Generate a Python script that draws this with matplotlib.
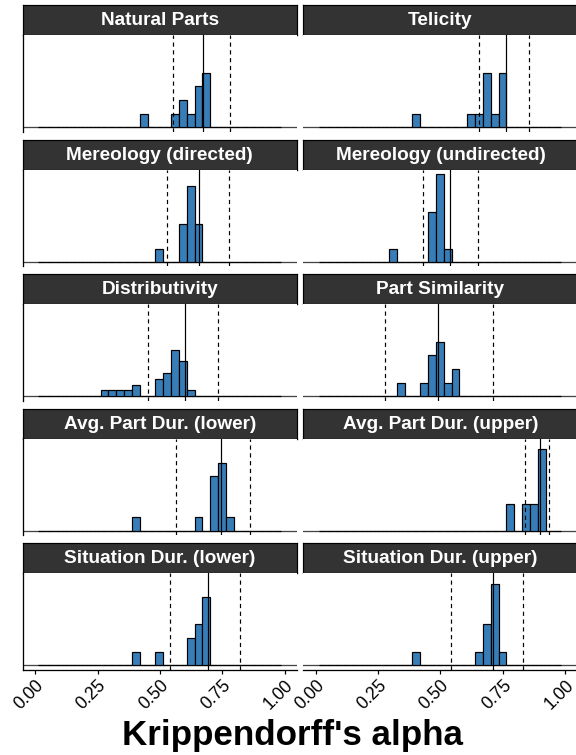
import matplotlib.pyplot as plt
import numpy as np

plt.rcParams['font.family'] = ['Liberation Sans', 'DejaVu Sans']

# facet titles, in reading order (left to right, top to bottom)
titles = ['Natural Parts', 'Telicity',
          'Mereology (directed)', 'Mereology (undirected)',
          'Distributivity', 'Part Similarity',
          'Avg. Part Dur. (lower)', 'Avg. Part Dur. (upper)',
          'Situation Dur. (lower)', 'Situation Dur. (upper)']

# shared histogram bins
bin_start = 0.011
bin_width = 0.0314
n_bins = 31

# occupied bin index -> count, per facet
bins_natural = [13, 17, 18, 19, 20, 21]
counts_natural = [1, 1, 2, 1, 3, 4]
bins_telicity = [12, 19, 20, 21, 22, 23]
counts_telicity = [1, 1, 1, 4, 1, 4]
bins_mer_dir = [15, 18, 19, 20]
counts_mer_dir = [1, 3, 6, 3]
bins_mer_undir = [9, 14, 15, 16]
counts_mer_undir = [1, 4, 7, 1]
bins_distrib = [8, 9, 10, 11, 12, 15, 16, 17, 18, 19]
counts_distrib = [1, 1, 1, 1, 2, 3, 4, 8, 6, 1]
bins_part_sim = [10, 13, 14, 15, 16, 17]
counts_part_sim = [1, 1, 3, 4, 1, 2]
bins_apd_low = [12, 20, 22, 23, 24]
counts_apd_low = [1, 1, 4, 5, 1]
bins_apd_up = [24, 26, 27, 28]
counts_apd_up = [1, 1, 1, 3]
bins_sd_low = [12, 15, 19, 20, 21]
counts_sd_low = [1, 1, 2, 3, 5]
bins_sd_up = [12, 20, 21, 22, 23]
counts_sd_up = [1, 1, 3, 6, 1]

all_bins = [bins_natural, bins_telicity, bins_mer_dir, bins_mer_undir, bins_distrib,
            bins_part_sim, bins_apd_low, bins_apd_up, bins_sd_low, bins_sd_up]
all_counts = [counts_natural, counts_telicity, counts_mer_dir, counts_mer_undir, counts_distrib,
              counts_part_sim, counts_apd_low, counts_apd_up, counts_sd_low, counts_sd_up]

# reference lines: solid = centre, dashed = lower / upper
centre = [0.673, 0.763, 0.659, 0.537, 0.602, 0.490, 0.746, 0.901, 0.692, 0.711]
lower = [0.553, 0.656, 0.529, 0.429, 0.453, 0.279, 0.566, 0.841, 0.542, 0.543]
upper = [0.780, 0.857, 0.778, 0.651, 0.734, 0.712, 0.863, 0.935, 0.820, 0.832]

xticks = [0.0, 0.25, 0.5, 0.75, 1.0]
xtick_labels = ['0.00', '0.25', '0.50', '0.75', '1.00']

W, H = 576, 755
fig = plt.figure(figsize=(W / 72, H / 72), dpi=72)

edges = bin_start + bin_width * np.arange(n_bins + 1)
densities = []
for b, c in zip(all_bins, all_counts):
    full = np.zeros(n_bins)
    full[b] = c
    densities.append(full / (sum(c) * bin_width))
ymax = max(d.max() for d in densities)

col_left = [22.7, 303.3]
col_width = 274.3
row_pitch = 134.5
strip_h = 30
panel_h = 96.7

def px_box(x0, y0, w, h):
    return [x0 / W, 1 - (y0 + h) / H, w / W, h / H]

for i, title in enumerate(titles):
    r, c = divmod(i, 2)
    top = 5 + row_pitch * r
    sax = fig.add_axes(px_box(col_left[c], top, col_width, strip_h))
    sax.set_facecolor('#333333')
    sax.set_xticks([])
    sax.set_yticks([])
    for s in sax.spines.values():
        s.set_color('black')
        s.set_linewidth(1.2)
    sax.text(0.5, 0.47, title, color='white', fontsize=19, fontweight='bold',
             ha='center', va='center', transform=sax.transAxes)

    ax = fig.add_axes(px_box(col_left[c], top + strip_h, col_width, panel_h))
    ax.set_xlim(-0.05, 1.05)
    ax.set_ylim(-0.05 * ymax, 1.05 * ymax)
    ax.axhline(0, color='#444444', lw=1.3, zorder=1)
    ax.bar(edges[:-1], densities[i], width=bin_width, align='edge',
           color='#377EB8', edgecolor='black', linewidth=1.2, zorder=2)
    ax.axvline(centre[i], color='black', lw=1.2, zorder=3)
    ax.axvline(lower[i], color='black', lw=1.2, ls=(0, (3.5, 3)), zorder=3)
    ax.axvline(upper[i], color='black', lw=1.2, ls=(0, (3.5, 3)), zorder=3)

    ax.set_yticks([])
    ax.spines['top'].set_visible(False)
    ax.spines['right'].set_visible(False)
    ax.spines['left'].set_visible(c == 0)
    ax.spines['left'].set_linewidth(1.3)
    if r == 4:
        ax.spines['bottom'].set_linewidth(1.3)
        ax.set_xticks(xticks)
        ax.set_xticklabels(xtick_labels, rotation=45, ha='right',
                           rotation_mode='anchor', fontsize=17.5)
        ax.tick_params(axis='x', length=4, width=1.2, pad=3)
    else:
        ax.spines['bottom'].set_visible(False)
        ax.set_xticks([])

fig.text(292 / W, 1 - 735 / H, "Krippendorff's alpha", fontsize=35,
         fontweight='bold', ha='center', va='center')

fig.savefig('out.png', dpi=72)
